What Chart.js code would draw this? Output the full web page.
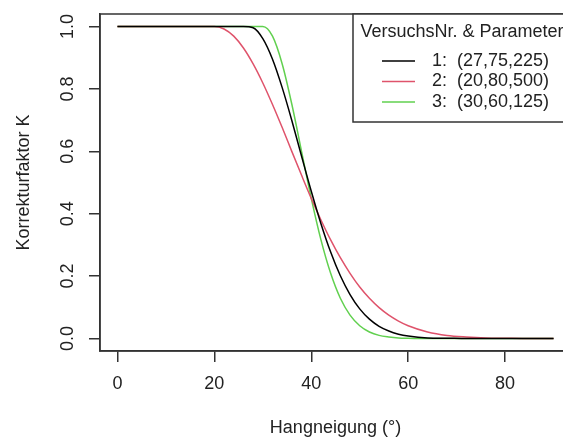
<!DOCTYPE html>
<html>
<head>
<meta charset="utf-8">
<script src="https://cdn.jsdelivr.net/npm/chart.js@4/dist/chart.umd.min.js"></script>
<style>
  html, body { margin:0; padding:0; background:#fff; overflow:hidden; }
  canvas { display:block; }
</style>
</head>
<body>
<canvas id="grafico" width="575" height="437"></canvas>
<script>
const winkel = [0, 10, 20, 22, 24, 26, 28, 30, 32, 34, 36, 38, 40, 42, 44, 46, 48, 50, 52, 54, 56, 58, 60, 64, 68, 72, 76, 80, 85, 90];
const k1 = [1, 1, 1, 1, 1, 1, 0.996, 0.961, 0.895, 0.804, 0.698, 0.584, 0.472, 0.368, 0.277, 0.201, 0.141, 0.095, 0.062, 0.039, 0.024, 0.014, 0.008, 0.002, 0.001, 0, 0, 0, 0, 0];
const k2 = [1, 1, 1, 0.992, 0.969, 0.931, 0.880, 0.819, 0.750, 0.676, 0.599, 0.523, 0.449, 0.380, 0.316, 0.259, 0.209, 0.165, 0.129, 0.099, 0.075, 0.056, 0.041, 0.021, 0.010, 0.005, 0.002, 0.001, 0, 0];
const k3 = [1, 1, 1, 1, 1, 1, 1, 1, 0.969, 0.880, 0.750, 0.599, 0.449, 0.316, 0.209, 0.129, 0.075, 0.041, 0.021, 0.010, 0.005, 0.002, 0.001, 0, 0, 0, 0, 0, 0, 0];

const nomes = ["1:  (27,75,225)", "2:  (20,80,500)", "3:  (30,60,125)"];
const cores = ["#000000", "#DF536B", "#61D04F"];
const xTicks = [0, 20, 40, 60, 80];
const yTicks = [0, 0.2, 0.4, 0.6, 0.8, 1.0];
const legendeTitel = "VersuchsNr. & Parameter";

const fonte = "Liberation Sans, Arial, sans-serif";
const corTexto = "#222";
const corEixo = "#333";

const series = [k1, k2, k3].map((k, i) => ({
  label: nomes[i],
  data: winkel.map((w, j) => ({x: w, y: k[j]})),
  borderColor: cores[i],
  borderWidth: 1.5,
  pointRadius: 0,
  fill: false,
  cubicInterpolationMode: "monotone"
}));

// Rahmen, gedrehte y-Beschriftung und Legende wie in R
const extras = {
  id: "extras",
  afterDraw(chart){
    const ctx = chart.ctx;
    const a = chart.chartArea;
    const y = chart.scales.y;

    ctx.save();
    ctx.strokeStyle = corEixo;
    ctx.lineWidth = 1.5;
    ctx.strokeRect(a.left, a.top, a.right - a.left, a.bottom - a.top);

    ctx.fillStyle = corTexto;
    ctx.font = "18px " + fonte;
    ctx.textAlign = "center";
    ctx.textBaseline = "middle";
    yTicks.forEach(v => {
      ctx.save();
      ctx.translate(68, y.getPixelForValue(v));
      ctx.rotate(-Math.PI / 2);
      ctx.fillText(v.toFixed(1), 0, 0);
      ctx.restore();
    });

    // Legende oben rechts
    const lx = 353, ly = a.top, lw = a.right - lx, lh = 108;
    ctx.fillStyle = "#fff";
    ctx.fillRect(lx, ly, lw, lh);
    ctx.strokeStyle = corEixo;
    ctx.strokeRect(lx, ly, lw, lh);

    ctx.fillStyle = corTexto;
    ctx.textAlign = "center";
    ctx.fillText(legendeTitel, lx + lw / 2, ly + 18);

    ctx.textAlign = "left";
    nomes.forEach((n, i) => {
      const yy = ly + 47 + i * 20.5;
      ctx.strokeStyle = cores[i];
      ctx.lineWidth = 1.5;
      ctx.beginPath();
      ctx.moveTo(382, yy);
      ctx.lineTo(415, yy);
      ctx.stroke();
      ctx.fillStyle = corTexto;
      ctx.fillText(n, 432, yy);
    });
    ctx.restore();
  }
};

new Chart(document.getElementById("grafico"), {
  type: "line",
  data: { datasets: series },
  options: {
    responsive: false,
    animation: false,
    layout: { padding: { top: 14, right: 4, left: 0, bottom: 0 } },
    plugins: { legend: { display: false }, tooltip: { enabled: false } },
    scales: {
      x: {
        type: "linear",
        min: -3.6,
        max: 93.6,
        afterBuildTicks: s => { s.ticks = xTicks.map(v => ({value: v})); },
        afterFit: s => { s.height = 86; },
        grid: { drawOnChartArea: false, tickLength: 11, color: corEixo, lineWidth: 1.5 },
        border: { color: corEixo, width: 1.5 },
        ticks: { color: corTexto, font: { family: fonte, size: 18 }, padding: 11, maxRotation: 0, autoSkip: false },
        title: { display: true, text: "Hangneigung (°)", color: corTexto, font: { family: fonte, size: 18, lineHeight: 1 }, padding: { top: 0, bottom: 0 } }
      },
      y: {
        type: "linear",
        min: -0.04,
        max: 1.04,
        afterBuildTicks: s => { s.ticks = yTicks.map(v => ({value: v})); },
        afterFit: s => { s.width = 100; },
        grid: { drawOnChartArea: false, tickLength: 11, color: corEixo, lineWidth: 1.5 },
        border: { color: corEixo, width: 1.5 },
        ticks: { display: false },
        title: { display: true, text: "Korrekturfaktor K", color: corTexto, font: { family: fonte, size: 18, lineHeight: 1.2 }, padding: { top: 13, bottom: 0 } }
      }
    }
  },
  plugins: [extras]
});
</script>
</body>
</html>
